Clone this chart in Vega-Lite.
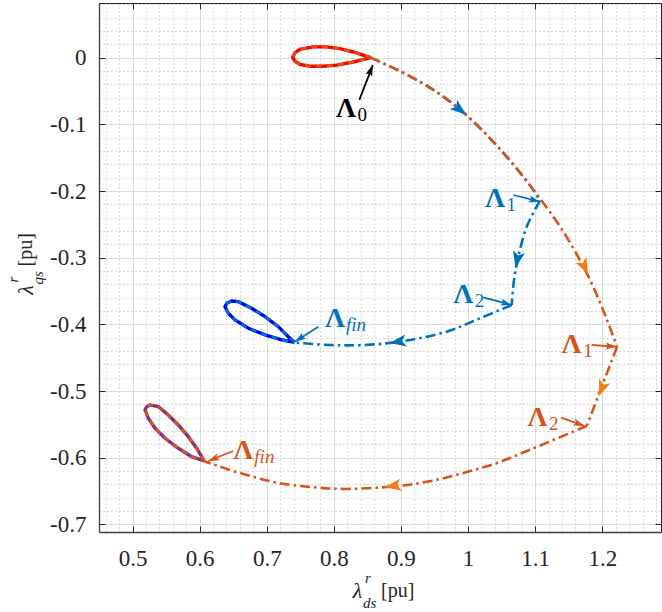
{
  "$schema": "https://vega.github.io/schema/vega-lite/v6.json",
  "width": 562,
  "height": 529,
  "autosize": {"type": "none"},
  "padding": {"left": 99, "top": 3, "right": 1, "bottom": 80},
  "config": {"view": {"stroke": null}, "font": "Liberation Serif, Times New Roman, serif"},
  "datasets": {
    "loops": [
      {"loop": "L0", "i": 0, "x": 0.855, "y": 0.0},
      {"loop": "L0", "i": 1, "x": 0.829, "y": 0.0085},
      {"loop": "L0", "i": 2, "x": 0.809, "y": 0.0135},
      {"loop": "L0", "i": 3, "x": 0.789, "y": 0.0162},
      {"loop": "L0", "i": 4, "x": 0.769, "y": 0.0162},
      {"loop": "L0", "i": 5, "x": 0.7496, "y": 0.0126},
      {"loop": "L0", "i": 6, "x": 0.7421, "y": 0.0075},
      {"loop": "L0", "i": 7, "x": 0.7386, "y": 0.0005},
      {"loop": "L0", "i": 8, "x": 0.7421, "y": -0.0055},
      {"loop": "L0", "i": 9, "x": 0.7496, "y": -0.01},
      {"loop": "L0", "i": 10, "x": 0.7644, "y": -0.0128},
      {"loop": "L0", "i": 11, "x": 0.7843, "y": -0.0128},
      {"loop": "L0", "i": 12, "x": 0.8042, "y": -0.0112},
      {"loop": "L0", "i": 13, "x": 0.829, "y": -0.0065},
      {"loop": "L0", "i": 14, "x": 0.855, "y": 0.0},
      {"loop": "Lb", "i": 0, "x": 0.7411, "y": -0.4269},
      {"loop": "Lb", "i": 1, "x": 0.7321, "y": -0.4185},
      {"loop": "Lb", "i": 2, "x": 0.7172, "y": -0.4035},
      {"loop": "Lb", "i": 3, "x": 0.6974, "y": -0.3885},
      {"loop": "Lb", "i": 4, "x": 0.6775, "y": -0.3759},
      {"loop": "Lb", "i": 5, "x": 0.6576, "y": -0.366},
      {"loop": "Lb", "i": 6, "x": 0.6477, "y": -0.365},
      {"loop": "Lb", "i": 7, "x": 0.6403, "y": -0.3684},
      {"loop": "Lb", "i": 8, "x": 0.6378, "y": -0.3735},
      {"loop": "Lb", "i": 9, "x": 0.6427, "y": -0.3834},
      {"loop": "Lb", "i": 10, "x": 0.6527, "y": -0.3935},
      {"loop": "Lb", "i": 11, "x": 0.6726, "y": -0.4059},
      {"loop": "Lb", "i": 12, "x": 0.6974, "y": -0.4159},
      {"loop": "Lb", "i": 13, "x": 0.7223, "y": -0.4234},
      {"loop": "Lb", "i": 14, "x": 0.7411, "y": -0.4269},
      {"loop": "Lp", "i": 0, "x": 0.6065, "y": -0.6049},
      {"loop": "Lp", "i": 1, "x": 0.5956, "y": -0.5859},
      {"loop": "Lp", "i": 2, "x": 0.5831, "y": -0.5685},
      {"loop": "Lp", "i": 3, "x": 0.5682, "y": -0.5509},
      {"loop": "Lp", "i": 4, "x": 0.5533, "y": -0.5359},
      {"loop": "Lp", "i": 5, "x": 0.5384, "y": -0.5235},
      {"loop": "Lp", "i": 6, "x": 0.526, "y": -0.5209},
      {"loop": "Lp", "i": 7, "x": 0.5211, "y": -0.5235},
      {"loop": "Lp", "i": 8, "x": 0.5186, "y": -0.5284},
      {"loop": "Lp", "i": 9, "x": 0.5235, "y": -0.5409},
      {"loop": "Lp", "i": 10, "x": 0.5335, "y": -0.5559},
      {"loop": "Lp", "i": 11, "x": 0.5484, "y": -0.5709},
      {"loop": "Lp", "i": 12, "x": 0.5682, "y": -0.5859},
      {"loop": "Lp", "i": 13, "x": 0.5882, "y": -0.5985},
      {"loop": "Lp", "i": 14, "x": 0.6065, "y": -0.6049}
    ],
    "paths": [
      {"grp": "o", "seg": "oA", "i": 0, "x": 0.855, "y": 0.0},
      {"grp": "o", "seg": "oA", "i": 1, "x": 0.895, "y": -0.0185},
      {"grp": "o", "seg": "oA", "i": 2, "x": 0.9448, "y": -0.046},
      {"grp": "o", "seg": "oA", "i": 3, "x": 0.9944, "y": -0.0834},
      {"grp": "o", "seg": "oA", "i": 4, "x": 1.0442, "y": -0.1335},
      {"grp": "o", "seg": "oA", "i": 5, "x": 1.0938, "y": -0.1935},
      {"grp": "o", "seg": "oA", "i": 6, "x": 1.1434, "y": -0.2634},
      {"grp": "o", "seg": "oA", "i": 7, "x": 1.1817, "y": -0.3334},
      {"grp": "o", "seg": "oA", "i": 8, "x": 1.2071, "y": -0.3934},
      {"grp": "o", "seg": "oA", "i": 9, "x": 1.222, "y": -0.4339},
      {"grp": "o", "seg": "oB", "i": 9, "x": 1.222, "y": -0.4339},
      {"grp": "o", "seg": "oB", "i": 10, "x": 1.1768, "y": -0.5524},
      {"grp": "o", "seg": "oC", "i": 10, "x": 1.1768, "y": -0.5524},
      {"grp": "o", "seg": "oC", "i": 11, "x": 1.0938, "y": -0.5874},
      {"grp": "o", "seg": "oC", "i": 12, "x": 1.0442, "y": -0.6075},
      {"grp": "o", "seg": "oC", "i": 13, "x": 0.9944, "y": -0.6225},
      {"grp": "o", "seg": "oC", "i": 14, "x": 0.9448, "y": -0.635},
      {"grp": "o", "seg": "oC", "i": 15, "x": 0.8952, "y": -0.6424},
      {"grp": "o", "seg": "oC", "i": 16, "x": 0.8192, "y": -0.6469},
      {"grp": "o", "seg": "oC", "i": 17, "x": 0.7694, "y": -0.6444},
      {"grp": "o", "seg": "oC", "i": 18, "x": 0.7197, "y": -0.6384},
      {"grp": "o", "seg": "oC", "i": 19, "x": 0.6701, "y": -0.626},
      {"grp": "o", "seg": "oC", "i": 20, "x": 0.6154, "y": -0.6084},
      {"grp": "o", "seg": "oC", "i": 21, "x": 0.6065, "y": -0.6049},
      {"grp": "b", "seg": "bA", "i": 0, "x": 0.855, "y": 0.0},
      {"grp": "b", "seg": "bA", "i": 1, "x": 0.895, "y": -0.0185},
      {"grp": "b", "seg": "bA", "i": 2, "x": 0.9448, "y": -0.046},
      {"grp": "b", "seg": "bA", "i": 3, "x": 0.9944, "y": -0.0834},
      {"grp": "b", "seg": "bA", "i": 4, "x": 1.0442, "y": -0.1335},
      {"grp": "b", "seg": "bA", "i": 5, "x": 1.0938, "y": -0.1935},
      {"grp": "b", "seg": "bA", "i": 6, "x": 1.1072, "y": -0.2145},
      {"grp": "b", "seg": "bB", "i": 6, "x": 1.1072, "y": -0.2145},
      {"grp": "b", "seg": "bB", "i": 7, "x": 1.0874, "y": -0.2535},
      {"grp": "b", "seg": "bB", "i": 8, "x": 1.0749, "y": -0.2985},
      {"grp": "b", "seg": "bB", "i": 9, "x": 1.0685, "y": -0.3334},
      {"grp": "b", "seg": "bB", "i": 10, "x": 1.065, "y": -0.371},
      {"grp": "b", "seg": "bC", "i": 10, "x": 1.065, "y": -0.371},
      {"grp": "b", "seg": "bC", "i": 11, "x": 1.0178, "y": -0.3909},
      {"grp": "b", "seg": "bC", "i": 12, "x": 0.9682, "y": -0.411},
      {"grp": "b", "seg": "bC", "i": 13, "x": 0.8986, "y": -0.426},
      {"grp": "b", "seg": "bC", "i": 14, "x": 0.8439, "y": -0.431},
      {"grp": "b", "seg": "bC", "i": 15, "x": 0.7943, "y": -0.431},
      {"grp": "b", "seg": "bC", "i": 16, "x": 0.7446, "y": -0.4275},
      {"grp": "b", "seg": "bC", "i": 17, "x": 0.7411, "y": -0.4269}
    ],
    "heads": [
      {"grp": "b", "x": 0.987, "y": -0.0774, "heading": 129},
      {"grp": "b", "x": 1.0734, "y": -0.3024, "heading": 193},
      {"grp": "b", "x": 0.896, "y": -0.426, "heading": 261},
      {"grp": "o2", "x": 1.1733, "y": -0.3135, "heading": 153},
      {"grp": "o2", "x": 1.1995, "y": -0.4959, "heading": 201},
      {"grp": "o2", "x": 0.8886, "y": -0.6424, "heading": 261}
    ],
    "arrows": [
      {"grp": "k", "x": 0.838, "y": -0.0634, "x2": 0.858, "y2": -0.0111, "heading": 21},
      {"grp": "b", "x": 1.0675, "y": -0.206, "x2": 1.107, "y2": -0.216, "heading": 104},
      {"grp": "b", "x": 1.0227, "y": -0.3594, "x2": 1.065, "y2": -0.371, "heading": 105},
      {"grp": "b", "x": 0.7768, "y": -0.4035, "x2": 0.742, "y2": -0.426, "heading": 237},
      {"grp": "o", "x": 1.184, "y": -0.431, "x2": 1.2215, "y2": -0.4335, "heading": 94},
      {"grp": "o", "x": 1.1385, "y": -0.54, "x2": 1.1733, "y2": -0.5524, "heading": 110},
      {"grp": "o", "x": 0.65, "y": -0.59, "x2": 0.613, "y2": -0.605, "heading": 248}
    ],
    "notes": [
      {"grp": "k", "x": 0.833, "y": -0.0889, "sub": "0"},
      {"grp": "b", "x": 1.055, "y": -0.2235, "sub": "1"},
      {"grp": "b", "x": 1.0078, "y": -0.3684, "sub": "2"},
      {"grp": "b", "x": 0.8166, "y": -0.4035, "sub": "fin"},
      {"grp": "o", "x": 1.1693, "y": -0.4434, "sub": "1"},
      {"grp": "o", "x": 1.1185, "y": -0.5524, "sub": "2"},
      {"grp": "o", "x": 0.68, "y": -0.6024, "sub": "fin"}
    ],
    "titles": [
      {"ax": "x", "x": 0.86875, "y": -0.7115, "sym": "λ", "sup": "r", "sub": "ds", "unit": "[pu]"},
      {"ax": "y", "x": 0.45, "y": -0.31475, "sym": "λ", "sup": "r", "sub": "qs", "unit": "[pu]"}
    ]
  },
  "encoding": {
    "x": {"field": "x", "type": "quantitative", "scale": {"domain": [0.45, 1.2875], "nice": false, "zero": false}, "axis": null},
    "y": {"field": "y", "type": "quantitative", "scale": {"domain": [-0.7115, 0.082], "nice": false, "zero": false}, "axis": null}
  },
  "layer": [
    {
      "data": {"name": "loops"},
      "transform": [{"filter": {"field": "loop", "equal": "L0"}}],
      "mark": {"type": "line", "color": "#ff0000", "strokeWidth": 3.4},
      "encoding": {
        "x": {"field": "x", "type": "quantitative", "scale": {"domain": [0.45, 1.2875], "nice": false, "zero": false},
          "axis": {"orient": "bottom", "values": [0.46,0.48,0.52,0.54,0.56,0.58,0.62,0.64,0.66,0.68,0.72,0.74,0.76,0.78,0.82,0.84,0.86,0.88,0.92,0.94,0.96,0.98,1.02,1.04,1.06,1.08,1.12,1.14,1.16,1.18,1.22,1.24,1.26,1.28],
            "grid": true, "gridColor": "#b0b0b0", "gridDash": [1, 3], "gridWidth": 1, "ticks": false, "labels": false, "domain": false, "title": null}},
        "y": {"field": "y", "type": "quantitative", "scale": {"domain": [-0.7115, 0.082], "nice": false, "zero": false},
          "axis": {"orient": "left", "values": [0.08,0.06,0.04,0.02,-0.02,-0.04,-0.06,-0.08,-0.12,-0.14,-0.16,-0.18,-0.22,-0.24,-0.26,-0.28,-0.32,-0.34,-0.36,-0.38,-0.42,-0.44,-0.46,-0.48,-0.52,-0.54,-0.56,-0.58,-0.62,-0.64,-0.66,-0.68],
            "grid": true, "gridColor": "#b0b0b0", "gridDash": [1, 3], "gridWidth": 1, "ticks": false, "labels": false, "domain": false, "title": null}},
        "order": {"field": "i", "type": "quantitative"}
      }
    },
    {
      "data": {"name": "loops"},
      "transform": [{"filter": {"field": "loop", "equal": "Lb"}}],
      "mark": {"type": "line", "color": "#0000ff", "strokeWidth": 3.4},
      "encoding": {
        "x": {"field": "x", "type": "quantitative", "scale": {"domain": [0.45, 1.2875], "nice": false, "zero": false},
          "axis": {"orient": "bottom", "values": [0.5,0.6,0.7,0.8,0.9,1,1.1,1.2], "labelExpr": "datum.value + ''",
            "grid": true, "gridColor": "#dcdcdc", "gridWidth": 1, "ticks": true, "tickSize": -6, "tickWidth": 1, "tickColor": "#262626",
            "labels": true, "labelFont": "Liberation Serif, Times New Roman, serif", "labelFontSize": 23, "labelColor": "#262626", "labelPadding": 21, "labelFlush": false, "labelOverlap": false,
            "domain": true, "domainColor": "#404040", "domainWidth": 1.3, "title": null}},
        "y": {"field": "y", "type": "quantitative", "scale": {"domain": [-0.7115, 0.082], "nice": false, "zero": false},
          "axis": {"orient": "left", "values": [0,-0.1,-0.2,-0.3,-0.4,-0.5,-0.6,-0.7], "labelExpr": "datum.value + ''",
            "grid": true, "gridColor": "#dcdcdc", "gridWidth": 1, "ticks": true, "tickSize": -6, "tickWidth": 1, "tickColor": "#262626",
            "labels": true, "labelFont": "Liberation Serif, Times New Roman, serif", "labelFontSize": 23, "labelColor": "#262626", "labelPadding": 19, "labelFlush": false, "labelOverlap": false,
            "domain": true, "domainColor": "#404040", "domainWidth": 1.3, "title": null}},
        "order": {"field": "i", "type": "quantitative"}
      }
    },
    {
      "data": {"name": "loops"},
      "transform": [{"filter": {"field": "loop", "equal": "Lp"}}],
      "mark": {"type": "line", "color": "#7e2f8e", "strokeWidth": 3.4},
      "encoding": {
        "x": {"field": "x", "type": "quantitative", "scale": {"domain": [0.45, 1.2875], "nice": false, "zero": false},
          "axis": {"orient": "top", "values": [0.5,0.6,0.7,0.8,0.9,1,1.1,1.2], "grid": false, "ticks": true, "tickSize": -6, "tickWidth": 1, "tickColor": "#262626",
            "labels": false, "domain": true, "domainColor": "#262626", "domainWidth": 1, "title": null}},
        "y": {"field": "y", "type": "quantitative", "scale": {"domain": [-0.7115, 0.082], "nice": false, "zero": false},
          "axis": {"orient": "right", "values": [0,-0.1,-0.2,-0.3,-0.4,-0.5,-0.6,-0.7], "grid": false, "ticks": true, "tickSize": -6, "tickWidth": 1, "tickColor": "#262626",
            "labels": false, "domain": true, "domainColor": "#262626", "domainWidth": 1, "title": null}},
        "order": {"field": "i", "type": "quantitative"}
      }
    },
    {
      "data": {"name": "loops"},
      "transform": [{"filter": {"field": "loop", "equal": "L0"}}],
      "mark": {"type": "line", "color": "#d95319", "strokeWidth": 2.8, "strokeDash": [6, 5]},
      "encoding": {"order": {"field": "i", "type": "quantitative"}}
    },
    {
      "data": {"name": "loops"},
      "transform": [{"filter": {"field": "loop", "equal": "Lb"}}],
      "mark": {"type": "line", "color": "#0072bd", "strokeWidth": 2.8, "strokeDash": [6, 5]},
      "encoding": {"order": {"field": "i", "type": "quantitative"}}
    },
    {
      "data": {"name": "loops"},
      "transform": [{"filter": {"field": "loop", "equal": "Lp"}}],
      "mark": {"type": "line", "color": "#d95319", "strokeWidth": 2.8, "strokeDash": [6, 5]},
      "encoding": {"order": {"field": "i", "type": "quantitative"}}
    },
    {
      "data": {"name": "paths"},
      "transform": [{"filter": {"field": "grp", "equal": "b"}}],
      "mark": {"type": "line", "color": "#0072bd", "strokeWidth": 2.6, "strokeDash": [10, 4, 2.5, 4], "interpolate": "catmull-rom"},
      "encoding": {"detail": {"field": "seg"}, "order": {"field": "i", "type": "quantitative"}}
    },
    {
      "data": {"name": "paths"},
      "transform": [{"filter": {"field": "grp", "equal": "o"}}],
      "mark": {"type": "line", "color": "#d95319", "strokeWidth": 2.6, "strokeDash": [10, 4, 2.5, 4], "interpolate": "catmull-rom"},
      "encoding": {"detail": {"field": "seg"}, "order": {"field": "i", "type": "quantitative"}}
    },
    {
      "data": {"name": "heads"},
      "mark": {"type": "point", "shape": "M0,-1L0.7,0.9L0,0.45L-0.7,0.9Z", "filled": true, "size": 300, "opacity": 1, "strokeWidth": 0},
      "encoding": {
        "color": {"field": "grp", "type": "nominal", "scale": {"domain": ["k", "b", "o", "o2"], "range": ["#000000", "#0072bd", "#d95319", "#f07f1c"]}, "legend": null},
        "angle": {"field": "heading", "type": "quantitative", "scale": null}
      }
    },
    {
      "data": {"name": "arrows"},
      "mark": {"type": "rule", "strokeWidth": 1.8},
      "encoding": {
        "x2": {"field": "x2"},
        "y2": {"field": "y2"},
        "color": {"field": "grp", "type": "nominal", "scale": {"domain": ["k", "b", "o", "o2"], "range": ["#000000", "#0072bd", "#d95319", "#f07f1c"]}, "legend": null}
      }
    },
    {
      "data": {"name": "arrows"},
      "mark": {"type": "point", "shape": "M0,0L0.32,1L0,0.8L-0.32,1Z", "filled": true, "size": 484, "opacity": 1, "strokeWidth": 0},
      "encoding": {
        "x": {"field": "x2", "type": "quantitative", "scale": {"domain": [0.45, 1.2875], "nice": false, "zero": false}, "axis": null},
        "y": {"field": "y2", "type": "quantitative", "scale": {"domain": [-0.7115, 0.082], "nice": false, "zero": false}, "axis": null},
        "color": {"field": "grp", "type": "nominal", "scale": {"domain": ["k", "b", "o", "o2"], "range": ["#000000", "#0072bd", "#d95319", "#f07f1c"]}, "legend": null},
        "angle": {"field": "heading", "type": "quantitative", "scale": null}
      }
    },
    {
      "data": {"name": "notes"},
      "mark": {"type": "text", "text": "Λ", "font": "Liberation Serif, Times New Roman, serif", "fontWeight": "bold", "fontSize": 28, "align": "right", "baseline": "alphabetic"},
      "encoding": {
        "color": {"field": "grp", "type": "nominal", "scale": {"domain": ["k", "b", "o", "o2"], "range": ["#000000", "#0072bd", "#d95319", "#f07f1c"]}, "legend": null}
      }
    },
    {
      "data": {"name": "notes"},
      "transform": [{"filter": "datum.sub != 'fin'"}],
      "mark": {"type": "text", "font": "Liberation Serif, Times New Roman, serif", "fontSize": 19, "align": "left", "baseline": "alphabetic", "dx": 1.5, "dy": 4},
      "encoding": {
        "text": {"field": "sub"},
        "color": {"field": "grp", "type": "nominal", "scale": {"domain": ["k", "b", "o", "o2"], "range": ["#000000", "#0072bd", "#d95319", "#f07f1c"]}, "legend": null}
      }
    },
    {
      "data": {"name": "notes"},
      "transform": [{"filter": "datum.sub == 'fin'"}],
      "mark": {"type": "text", "font": "Liberation Serif, Times New Roman, serif", "fontStyle": "italic", "fontSize": 19, "align": "left", "baseline": "alphabetic", "dx": 1, "dy": 4},
      "encoding": {
        "text": {"field": "sub"},
        "color": {"field": "grp", "type": "nominal", "scale": {"domain": ["k", "b", "o", "o2"], "range": ["#000000", "#0072bd", "#d95319", "#f07f1c"]}, "legend": null}
      }
    },
    {"data": {"name": "titles"}, "transform": [{"filter": "datum.ax == 'x'"}],
     "mark": {"type": "text", "font": "Liberation Serif, Times New Roman, serif", "fontStyle": "italic", "fontSize": 22, "align": "center", "baseline": "alphabetic", "dx": -22.5, "dy": 66, "color": "#262626"},
     "encoding": {"text": {"field": "sym"}}},
    {"data": {"name": "titles"}, "transform": [{"filter": "datum.ax == 'x'"}],
     "mark": {"type": "text", "font": "Liberation Serif, Times New Roman, serif", "fontStyle": "italic", "fontSize": 15, "align": "left", "baseline": "alphabetic", "dx": -15, "dy": 51, "color": "#262626"},
     "encoding": {"text": {"field": "sup"}}},
    {"data": {"name": "titles"}, "transform": [{"filter": "datum.ax == 'x'"}],
     "mark": {"type": "text", "font": "Liberation Serif, Times New Roman, serif", "fontStyle": "italic", "fontSize": 15, "align": "left", "baseline": "alphabetic", "dx": -17, "dy": 76, "color": "#262626"},
     "encoding": {"text": {"field": "sub"}}},
    {"data": {"name": "titles"}, "transform": [{"filter": "datum.ax == 'x'"}],
     "mark": {"type": "text", "font": "Liberation Serif, Times New Roman, serif", "fontSize": 20, "align": "left", "baseline": "alphabetic", "dx": 1, "dy": 65, "color": "#262626"},
     "encoding": {"text": {"field": "unit"}}},
    {"data": {"name": "titles"}, "transform": [{"filter": "datum.ax == 'y'"}],
     "mark": {"type": "text", "angle": 270, "font": "Liberation Serif, Times New Roman, serif", "fontStyle": "italic", "fontSize": 22, "align": "center", "baseline": "alphabetic", "dx": -22.5, "dy": -66, "color": "#262626"},
     "encoding": {"text": {"field": "sym"}}},
    {"data": {"name": "titles"}, "transform": [{"filter": "datum.ax == 'y'"}],
     "mark": {"type": "text", "angle": 270, "font": "Liberation Serif, Times New Roman, serif", "fontStyle": "italic", "fontSize": 15, "align": "left", "baseline": "alphabetic", "dx": -15, "dy": -81, "color": "#262626"},
     "encoding": {"text": {"field": "sup"}}},
    {"data": {"name": "titles"}, "transform": [{"filter": "datum.ax == 'y'"}],
     "mark": {"type": "text", "angle": 270, "font": "Liberation Serif, Times New Roman, serif", "fontStyle": "italic", "fontSize": 15, "align": "left", "baseline": "alphabetic", "dx": -17, "dy": -56, "color": "#262626"},
     "encoding": {"text": {"field": "sub"}}},
    {"data": {"name": "titles"}, "transform": [{"filter": "datum.ax == 'y'"}],
     "mark": {"type": "text", "angle": 270, "font": "Liberation Serif, Times New Roman, serif", "fontSize": 20, "align": "left", "baseline": "alphabetic", "dx": 1, "dy": -67, "color": "#262626"},
     "encoding": {"text": {"field": "unit"}}}
  ],
  "resolve": {"axis": {"x": "independent", "y": "independent"}}
}
